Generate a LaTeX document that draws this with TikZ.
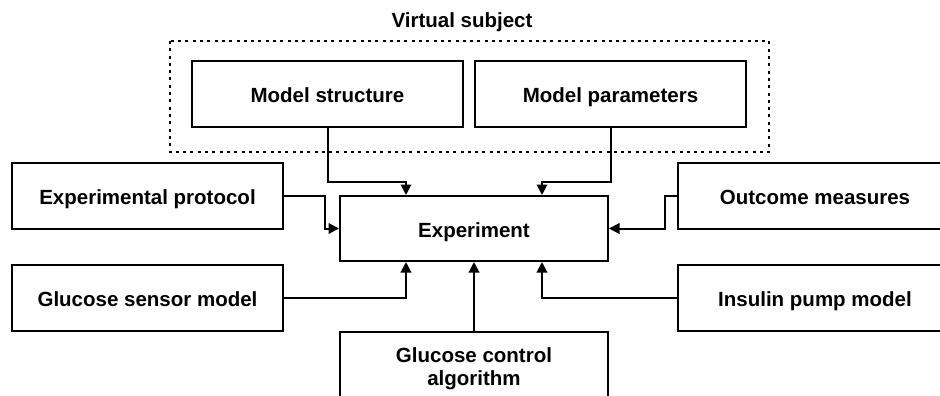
\documentclass[tikz,border=0pt]{standalone}
\usepackage{fontspec}
\setmainfont{Liberation Sans}
\usetikzlibrary{arrows.meta,calc}
\begin{document}
\begin{tikzpicture}[x=1pt,y=-1pt,
  lbl/.style={font=\fontsize{20.5}{23}\selectfont\bfseries},
  box/.style={draw,line width=2pt,inner sep=0pt,minimum width=271pt,minimum height=66pt,align=center,lbl},
  onebox/.style={box,text height=19pt,text depth=2pt},
  arr/.style={line width=2pt,-{Triangle[length=10.5pt,width=10.5pt]}},
  group/.style={line width=2pt,dash pattern=on 3pt off 4.3pt}
]
\path[use as bounding box,clip] (0,0) rectangle (940,396);
\fill[white] (0,0) rectangle (940,396);
% virtual subject group
\draw[group] (170,41) rectangle (769,152);
\node[lbl,text height=15pt,text depth=4pt] (vs) at (462,22) {Virtual subject};
\node[onebox] (ms) at (327.5,94) {Model structure};
\node[onebox] (mp) at (610.5,94) {Model parameters};
% centre
\node[onebox,minimum width=268pt,minimum height=65pt] (exp) at (474,228.5) {Experiment};
\node[onebox] (ep) at (147.5,195.5) {Experimental protocol};
\node[onebox] (gs) at (147.5,297.5) {Glucose sensor model};
\node[onebox,minimum width=274pt] (om) at (815,195.5) {Outcome measures};
\node[onebox,minimum width=274pt] (ip) at (815,297.5) {Insulin pump model};
\node[box,minimum width=268pt,minimum height=74pt] (gc) at (474,369) {Glucose control\\algorithm};
% helper coordinates
\coordinate (bend) at (0,182);
\coordinate (expTL) at ($(exp.north)+(-68,0)$);
\coordinate (expTR) at ($(exp.north)+(68,0)$);
\coordinate (expBL) at ($(exp.south)+(-68,0)$);
\coordinate (expBR) at ($(exp.south)+(68,0)$);
\coordinate (jl) at (325,228.5);
\coordinate (jr) at (665,228.5);
% connectors
\draw[arr] (ms.south) -- (ms.south |- bend) -| (expTL);
\draw[arr] (mp.south) -- (mp.south |- bend) -| (expTR);
\draw[arr] (ep.east) -| (jl) -- (exp.west);
\draw[arr] (om.west) -| (jr) -- (exp.east);
\draw[arr] (gs.east) -| (expBL);
\draw[arr] (ip.west) -| (expBR);
\draw[arr] (gc.north) -- (exp.south);
\end{tikzpicture}
\end{document}
